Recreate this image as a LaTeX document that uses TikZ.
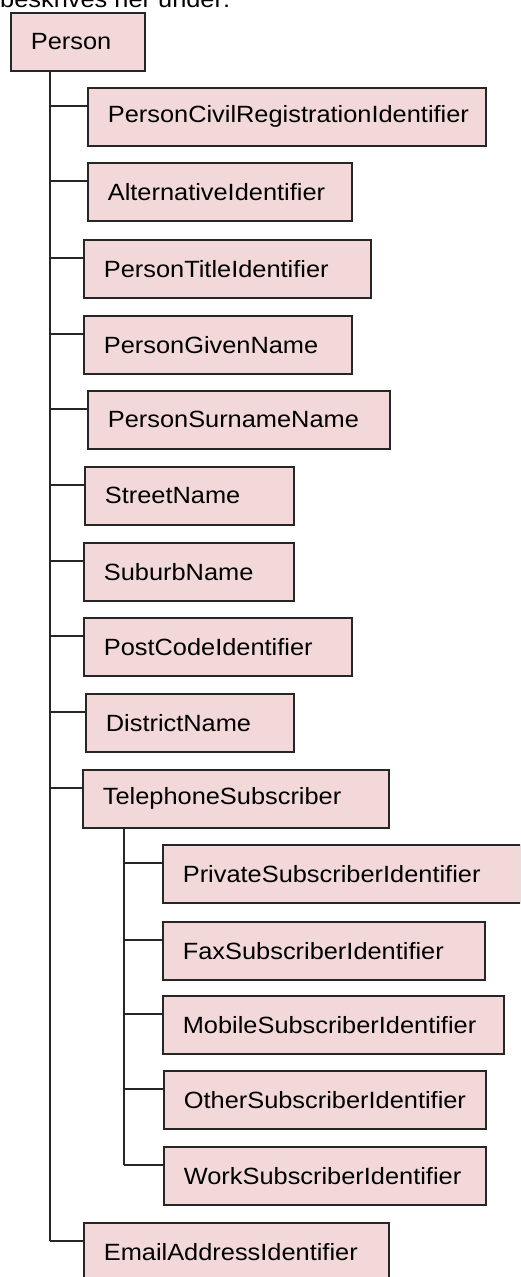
\documentclass[tikz,border=0pt]{standalone}
\usepackage{fontspec}
\usepackage{tikz}
\newfontfamily\entfont{Liberation Sans}[FakeStretch=1.08]
\hyphenpenalty=10000
\exhyphenpenalty=10000
\definecolor{entpink}{rgb}{0.949, 0.847, 0.847}
\definecolor{entline}{rgb}{0.15, 0.15, 0.15}
\tikzstyle{entbox}=[draw=entline,line width=1.7pt,fill=entpink,anchor=north west,minimum height=58pt,inner xsep=20pt,inner ysep=0pt,align=left]
\tikzstyle{branch}=[draw=entline,line width=2pt]

\begin{document}
\begin{tikzpicture}[x=1pt,y=-1pt,font=\entfont\fontsize{23.5}{28}\selectfont]
\useasboundingbox (0,0) rectangle (520,1277);
\clip (0,0) rectangle (520,1277);
\node[anchor=base west,inner sep=0pt] (head) at (0,7) {beskrives her under:};
\node[entbox, text width=94pt] (per) at (10,12) {Person};
\node[entbox, text width=358pt] (pcr) at (87,87) {PersonCivilRegistrationIdentifier};
\node[entbox, text width=224pt] (alt) at (87,162) {AlternativeIdentifier};
\node[entbox, text width=247pt] (tit) at (83,239) {PersonTitleIdentifier};
\node[entbox, text width=228pt] (giv) at (83,315) {PersonGivenName};
\node[entbox, text width=262pt] (sur) at (87,390) {PersonSurnameName};
\node[entbox, text width=169pt] (str) at (84,466) {StreetName};
\node[entbox, text width=170pt] (sub) at (83,542) {SuburbName};
\node[entbox, text width=228pt] (pst) at (83,617) {PostCodeIdentifier};
\node[entbox, text width=168pt] (dst) at (85,693) {DistrictName};
\node[entbox, text width=266pt] (tel) at (82,769) {TelephoneSubscriber};
\node[entbox, text width=318pt] (prv) at (162,844) {PrivateSubscriberIdentifier};
\node[entbox, text width=282pt] (fax) at (162,921) {FaxSubscriberIdentifier};
\node[entbox, text width=301pt] (mob) at (162,995) {MobileSubscriberIdentifier};
\node[entbox, text width=282pt] (oth) at (163,1070) {OtherSubscriberIdentifier};
\node[entbox, text width=282pt] (wrk) at (163,1146) {WorkSubscriberIdentifier};
\node[entbox, text width=265pt] (eml) at (83,1222) {EmailAddressIdentifier};
\coordinate (tr) at ([xshift=40pt]per.south west);
\coordinate (tt) at ([xshift=42pt]tel.south west);
\foreach \b in {pcr,alt,tit,giv,sur,str,sub,pst,dst,tel,eml}{
  \coordinate (\b-in) at ([yshift=11pt]\b.west);
  \draw[branch] (tr |- \b-in) -- (\b-in);
}
\foreach \b in {prv,fax,mob,oth,wrk}{
  \coordinate (\b-in) at ([yshift=11pt]\b.west);
  \draw[branch] (tt |- \b-in) -- (\b-in);
}
\draw[branch] (tr) -- (tr |- eml-in);
\draw[branch] (tt) -- (tt |- wrk-in);
\end{tikzpicture}
\end{document}
